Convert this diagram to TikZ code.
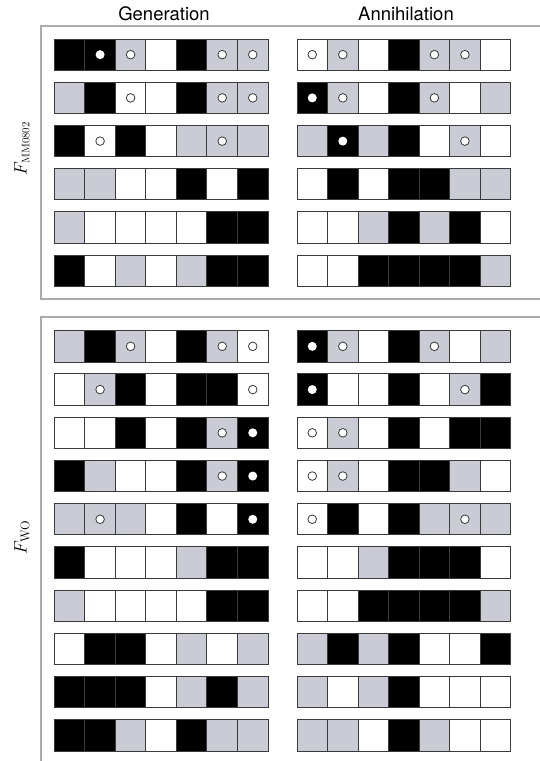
\documentclass[tikz,border=0pt]{standalone}
\usepackage{fix-cm}
\usepackage{fontspec}
\setsansfont{TeX Gyre Heros}
\usetikzlibrary{positioning}
\definecolor{grau}{HTML}{CBCBD6}
\definecolor{kante}{HTML}{3A3A3A}
\definecolor{rahmen}{HTML}{ABABAB}

\tikzset{
  cell/.style={draw=kante, line width=1pt, minimum width=30.53pt,
               minimum height=31.3pt, inner sep=0pt, outer sep=0pt},
  cK/.style={fill=black},
  cG/.style={fill=grau},
  cW/.style={fill=white},
  ring/.style={path picture={\draw[kante, line width=0.8pt, fill=white]
               (path picture bounding box.center) circle (4.3pt);}},
  dot/.style={path picture={\fill[white]
               (path picture bounding box.center) circle (4.5pt);}},
  cKd/.style={cK, dot},
  cGo/.style={cG, ring},
  cWo/.style={cW, ring},
  titel/.style={font=\sffamily\fontsize{18.5}{22}\selectfont, anchor=base},
  seite/.style={font=\fontsize{18}{22}\selectfont, rotate=90},
}

% rows of seven cells: name, left x, top y, rows
\newcommand{\zellen}[4]{%
  \foreach \row [count=\r] in {#4} {
    \foreach \c [count=\i] in \row {
      \node[cell, \c] (#1-\r-\i) at ({#2+(\i-0.5)*30.53}, {#3+(\r-1)*43.23+15.65}) {};
    }
  }%
}

\begin{document}
\begin{tikzpicture}[x=1pt, y=-1pt]
  \useasboundingbox (0,0) rectangle (540,761);

  % Rahmen
  \draw[rahmen, line width=1.5pt] (545,26) -- (41,26) -- (41,299) -- (545,299);
  \draw[rahmen, line width=1.5pt] (545,317) -- (41,317) -- (41,770);

  % Titel
  \node[titel] (gen) at (164,20.5) {Generation};
  \node[titel] (ann) at (406,20.5) {Annihilation};
  \node[seite] (fmm) at (22,148.5) {$F_{\hbox{\fontsize{11}{12}\selectfont MM0802}}$};
  \node[seite] (fwo) at (22,537) {$F_{\mathrm{WO}}$};

  % F_MM0802
  \zellen{mg}{54.3}{39}{
    {cK,cKd,cGo,cW,cK,cGo,cGo},
    {cG,cK,cWo,cW,cK,cGo,cGo},
    {cK,cWo,cK,cW,cG,cGo,cG},
    {cG,cG,cW,cW,cK,cW,cK},
    {cG,cW,cW,cW,cW,cK,cK},
    {cK,cW,cG,cW,cG,cK,cK}}
  \zellen{ma}{297}{39}{
    {cWo,cGo,cW,cK,cGo,cGo,cW},
    {cKd,cGo,cW,cK,cGo,cW,cG},
    {cG,cKd,cG,cK,cW,cGo,cW},
    {cW,cK,cW,cK,cK,cG,cG},
    {cW,cW,cG,cK,cG,cK,cW},
    {cW,cW,cK,cK,cK,cK,cG}}

  % F_WO
  \zellen{wg}{54.3}{330.7}{
    {cG,cK,cGo,cW,cK,cGo,cWo},
    {cW,cGo,cK,cW,cK,cK,cWo},
    {cW,cW,cK,cW,cK,cGo,cKd},
    {cK,cG,cW,cW,cK,cGo,cKd},
    {cG,cGo,cG,cW,cK,cW,cKd},
    {cK,cW,cW,cW,cG,cK,cK},
    {cG,cW,cW,cW,cW,cK,cK},
    {cW,cK,cK,cW,cG,cW,cG},
    {cK,cK,cK,cW,cG,cK,cG},
    {cK,cK,cG,cW,cK,cG,cG}}
  \zellen{wa}{297}{330.7}{
    {cKd,cGo,cW,cK,cGo,cW,cG},
    {cKd,cW,cW,cK,cW,cGo,cK},
    {cWo,cGo,cW,cK,cW,cK,cK},
    {cWo,cGo,cW,cK,cK,cG,cW},
    {cWo,cK,cW,cK,cG,cGo,cG},
    {cW,cW,cG,cK,cK,cK,cW},
    {cW,cW,cK,cK,cK,cK,cG},
    {cG,cK,cG,cK,cW,cW,cK},
    {cG,cW,cG,cK,cW,cW,cW},
    {cG,cG,cW,cK,cG,cW,cW}}
\end{tikzpicture}
\end{document}
